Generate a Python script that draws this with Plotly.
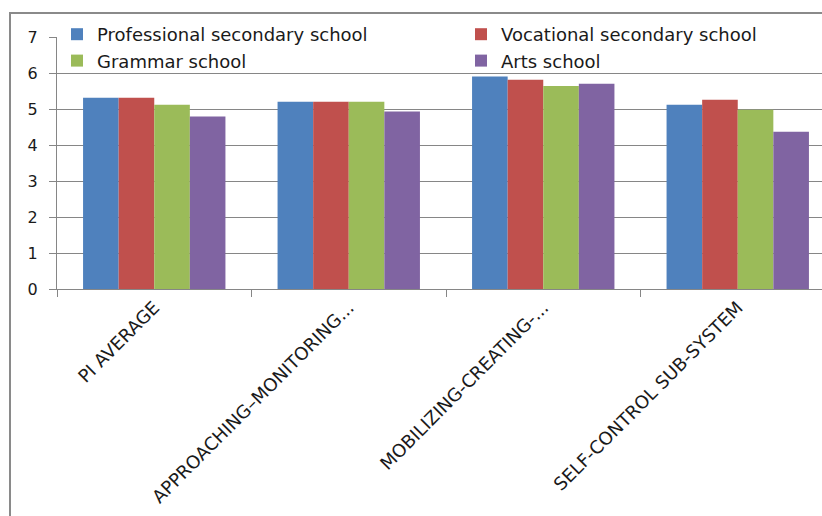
import plotly.graph_objects as go

categories = [
    "PI AVERAGE",
    "APPROACHING–MONITORING...",
    "MOBILIZING-CREATING-...",
    "SELF-CONTROL SUB-SYSTEM",
]
professional = [5.31, 5.20, 5.90, 5.12]
vocational = [5.31, 5.20, 5.81, 5.26]
grammar = [5.12, 5.20, 5.64, 4.98]
arts = [4.79, 4.93, 5.70, 4.37]
y_ticks = [0, 1, 2, 3, 4, 5, 6, 7]

series = [
    ("Professional secondary school", professional, "#4F81BD", "legend"),
    ("Vocational secondary school", vocational, "#C0504D", "legend2"),
    ("Grammar school", grammar, "#9BBB59", "legend"),
    ("Arts school", arts, "#8064A2", "legend2"),
]

FONT = "DejaVu Sans"
W, H = 822, 516
L, T, B = 57, 37, 227
plot_w = W - L
plot_h = H - T - B
cat_px = 194.5

fig = go.Figure()
for name, vals, color, leg in series:
    fig.add_trace(go.Bar(
        x=categories, y=vals, name=name, legend=leg,
        marker=dict(color=color, line=dict(width=0)),
    ))

legend_common = dict(
    orientation="v", xref="paper", yref="paper",
    xanchor="left", yanchor="top", bgcolor="rgba(0,0,0,0)",
    font=dict(family=FONT, size=18, color="#1a1a1a"),
    tracegroupgap=0, borderwidth=0,
)

def px_x(px):
    return (px - L) / plot_w

def px_y(py):
    return (H - B - py) / plot_h

fig.update_layout(
    width=W, height=H,
    margin=dict(l=L, r=0, t=T, b=B, pad=0, autoexpand=False),
    paper_bgcolor="white", plot_bgcolor="white",
    barmode="group", bargap=0.268, bargroupgap=0,
    font=dict(family=FONT, size=16, color="#1a1a1a"),
    legend=dict(x=px_x(57), y=px_y(16), **legend_common),
    legend2=dict(x=px_x(461), y=px_y(16), **legend_common),
    xaxis=dict(
        type="category", automargin=False,
        range=[-0.5, -0.5 + plot_w / cat_px],
        showline=True, linecolor="#868686", linewidth=1,
        ticks="outside", tickson="boundaries", ticklen=7, tickcolor="#868686",
        tickangle=-45, tickfont=dict(family=FONT, size=18, color="#1a1a1a"),
        showgrid=False, zeroline=False,
    ),
    yaxis=dict(
        range=[0, 7], tickvals=y_ticks, automargin=False,
        showline=True, linecolor="#868686", linewidth=1,
        ticks="outside", ticklen=7, tickcolor="#868686",
        showgrid=True, gridcolor="#868686", gridwidth=1,
        zeroline=False,
        tickfont=dict(family=FONT, size=16, color="#1a1a1a"),
        ticklabelstandoff=8,
    ),
    shapes=[dict(
        type="rect", xref="paper", yref="paper",
        x0=px_x(10), x1=1.2,
        y0=px_y(13), y1=-2,
        line=dict(color="#8a8a8a", width=2), fillcolor="rgba(0,0,0,0)",
        layer="above",
    )],
)

fig.write_html("out.html")
